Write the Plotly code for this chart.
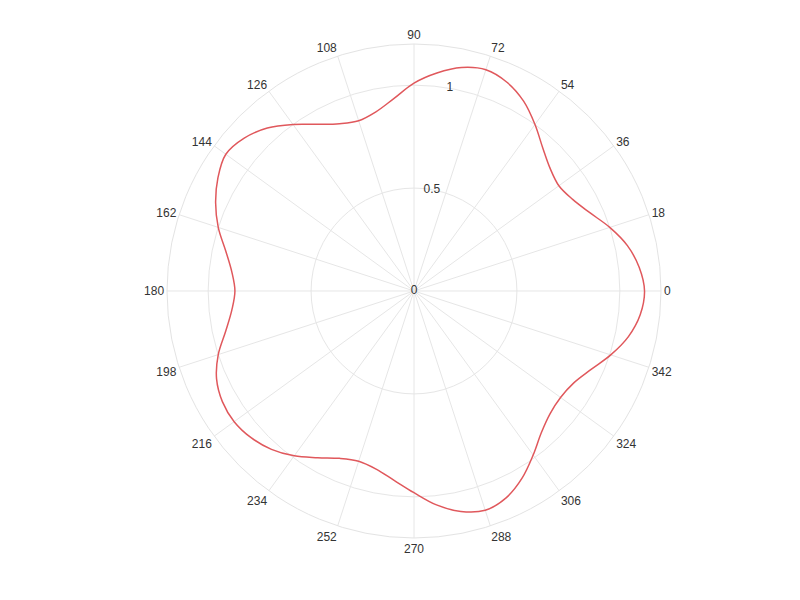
import plotly.graph_objects as go

theta_deg = list(range(0, 361, 6))
r_vals = [1.12, 1.10, 1.06, 1.00, 0.935, 0.89, 0.87, 0.89, 0.935, 1.00, 1.065, 1.11,
          1.13, 1.11, 1.065, 1.01, 0.94, 0.89, 0.87, 0.89, 0.935, 1.00, 1.065, 1.11,
          1.13, 1.10, 1.055, 1.00, 0.935, 0.89, 0.87, 0.89, 0.935, 1.00, 1.05, 1.075,
          1.08, 1.065, 1.035, 0.99, 0.935, 0.89, 0.87, 0.885, 0.925, 0.98, 1.045, 1.095,
          1.12, 1.10, 1.05, 0.985, 0.925, 0.89, 0.88, 0.895, 0.94, 1.005, 1.065, 1.105,
          1.12]

angle_ticks = list(range(0, 360, 18))
angle_labels = [str(a) for a in angle_ticks]
radial_ticks = [0, 0.5, 1]
radial_labels = ["0", "0.5", "1"]

fig = go.Figure()
fig.add_trace(go.Scatterpolar(
    r=r_vals, theta=theta_deg, mode="lines",
    line=dict(color="#e0585c", width=1.5, shape="spline", smoothing=1),
    hoverinfo="skip", showlegend=False,
))
fig.add_trace(go.Scatterpolar(
    r=radial_ticks, theta=[80] * len(radial_ticks), mode="text",
    text=radial_labels, textposition="middle center",
    textfont=dict(size=12, color="#333333", family="Liberation Sans, Arial, sans-serif"),
    hoverinfo="skip", showlegend=False,
))

fig.update_layout(
    width=800, height=600,
    paper_bgcolor="white", plot_bgcolor="white",
    margin=dict(l=0, r=0, t=0, b=0),
    font=dict(family="Liberation Sans, Arial, sans-serif", size=12, color="#333333"),
    polar=dict(
        domain=dict(x=[0.19875, 0.81625], y=[0.11667, 0.94]),
        bgcolor="white",
        angularaxis=dict(
            direction="counterclockwise", rotation=0,
            tickmode="array", tickvals=angle_ticks, ticktext=angle_labels,
            ticks="", showline=True, linecolor="#e3e3e3", linewidth=1,
            gridcolor="#e6e6e6", gridwidth=1,
            tickfont=dict(size=12, color="#333333"),
        ),
        radialaxis=dict(
            range=[0, 1.2], tickmode="array", tickvals=[0.5, 1],
            showticklabels=False, ticks="", showline=False,
            gridcolor="#e6e6e6", gridwidth=1, angle=90,
        ),
    ),
)

fig.write_html("out.html")
